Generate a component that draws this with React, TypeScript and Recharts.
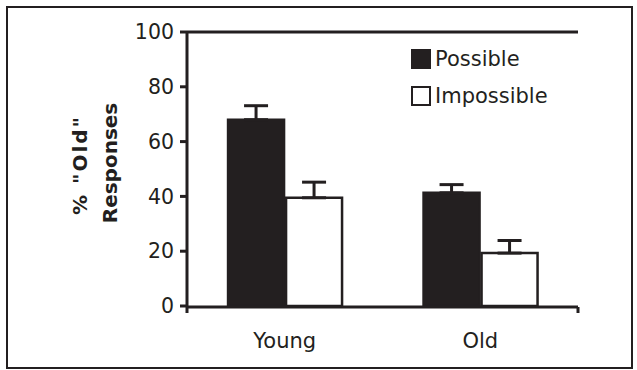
import { BarChart, Bar, XAxis, YAxis, ErrorBar, ReferenceLine } from 'recharts';

const groups = ['Young', 'Old'];
const possible = [68, 41.3];
const possibleErr = [5.1, 3];
const impossible = [39.5, 19.3];
const impossibleErr = [5.7, 4.6];
const yTicks = [0, 20, 40, 60, 80, 100];

const INK = '#231f20';
const FONT = '"DejaVu Sans", Verdana, sans-serif';

const chartData = groups.map((name, i) => ({
  name,
  possible: possible[i],
  possibleErr: [0, possibleErr[i]],
  impossible: impossible[i],
  impossibleErr: [0, impossibleErr[i]],
}));

const legendItems = [
  { label: 'Possible', fill: INK },
  { label: 'Impossible', fill: '#ffffff' },
];

const renderYLabel = () => (
  <g fill={INK} fontFamily={FONT} fontWeight="bold" fontSize={20}>
    <text transform="rotate(-90)" x={-165} y={87} textAnchor="middle" letterSpacing={2}>
      % "Old"
    </text>
    <text transform="rotate(-90)" x={-163} y={117} textAnchor="middle">
      Responses
    </text>
  </g>
);

export default function App() {
  return (
    <div style={{ position: 'absolute', left: 0, top: 0, width: 637, height: 370, background: '#fff' }}>
      <div
        style={{
          position: 'absolute',
          left: 6,
          top: 6,
          width: 627,
          height: 363,
          boxSizing: 'border-box',
          border: `2.5px solid ${INK}`,
        }}
      />
      <BarChart
        width={637}
        height={370}
        data={chartData}
        margin={{ top: 32, right: 59, bottom: 62, left: 127 }}
        barCategoryGap="21%"
        barGap={2}
        style={{ position: 'absolute', left: 0, top: 0 }}
      >
        <XAxis
          dataKey="name"
          height={1}
          axisLine={false}
          tickLine={false}
          tickSize={0}
          tickMargin={27}
          tick={{ fill: INK, fontSize: 21, fontFamily: FONT }}
        />
        <XAxis
          xAxisId="edges"
          type="number"
          domain={[0, 2]}
          ticks={[0, 1, 2]}
          height={1}
          tickFormatter={() => ''}
          tickSize={6}
          axisLine={{ stroke: INK, strokeWidth: 3 }}
          tickLine={{ stroke: INK, strokeWidth: 3 }}
        />
        <YAxis
          width={60}
          domain={[0, 100]}
          ticks={yTicks}
          tickSize={7}
          tickMargin={6}
          axisLine={{ stroke: INK, strokeWidth: 3 }}
          tickLine={{ stroke: INK, strokeWidth: 3 }}
          tick={{ fill: INK, fontSize: 20.5, fontFamily: FONT }}
          label={{ content: renderYLabel }}
        />
        <ReferenceLine y={100} stroke={INK} strokeWidth={3} />
        <ReferenceLine xAxisId="edges" x={2} stroke={INK} strokeWidth={3} />
        <Bar dataKey="possible" fill={INK} stroke={INK} strokeWidth={2.5} isAnimationActive={false}>
          <ErrorBar dataKey="possibleErr" width={12} stroke={INK} strokeWidth={3} />
        </Bar>
        <Bar dataKey="impossible" fill="#ffffff" stroke={INK} strokeWidth={2.5} isAnimationActive={false}>
          <ErrorBar dataKey="impossibleErr" width={12} stroke={INK} strokeWidth={3} />
        </Bar>
      </BarChart>
      <div style={{ position: 'absolute', left: 411, top: 40, fontFamily: FONT, fontSize: 21, color: INK }}>
        {legendItems.map(item => (
          <div key={item.label} style={{ display: 'flex', alignItems: 'center', height: 37 }}>
            <span
              style={{
                display: 'inline-block',
                width: 20,
                height: 20,
                boxSizing: 'border-box',
                background: item.fill,
                border: `2px solid ${INK}`,
                marginRight: 4,
              }}
            />
            {item.label}
          </div>
        ))}
      </div>
    </div>
  );
}
